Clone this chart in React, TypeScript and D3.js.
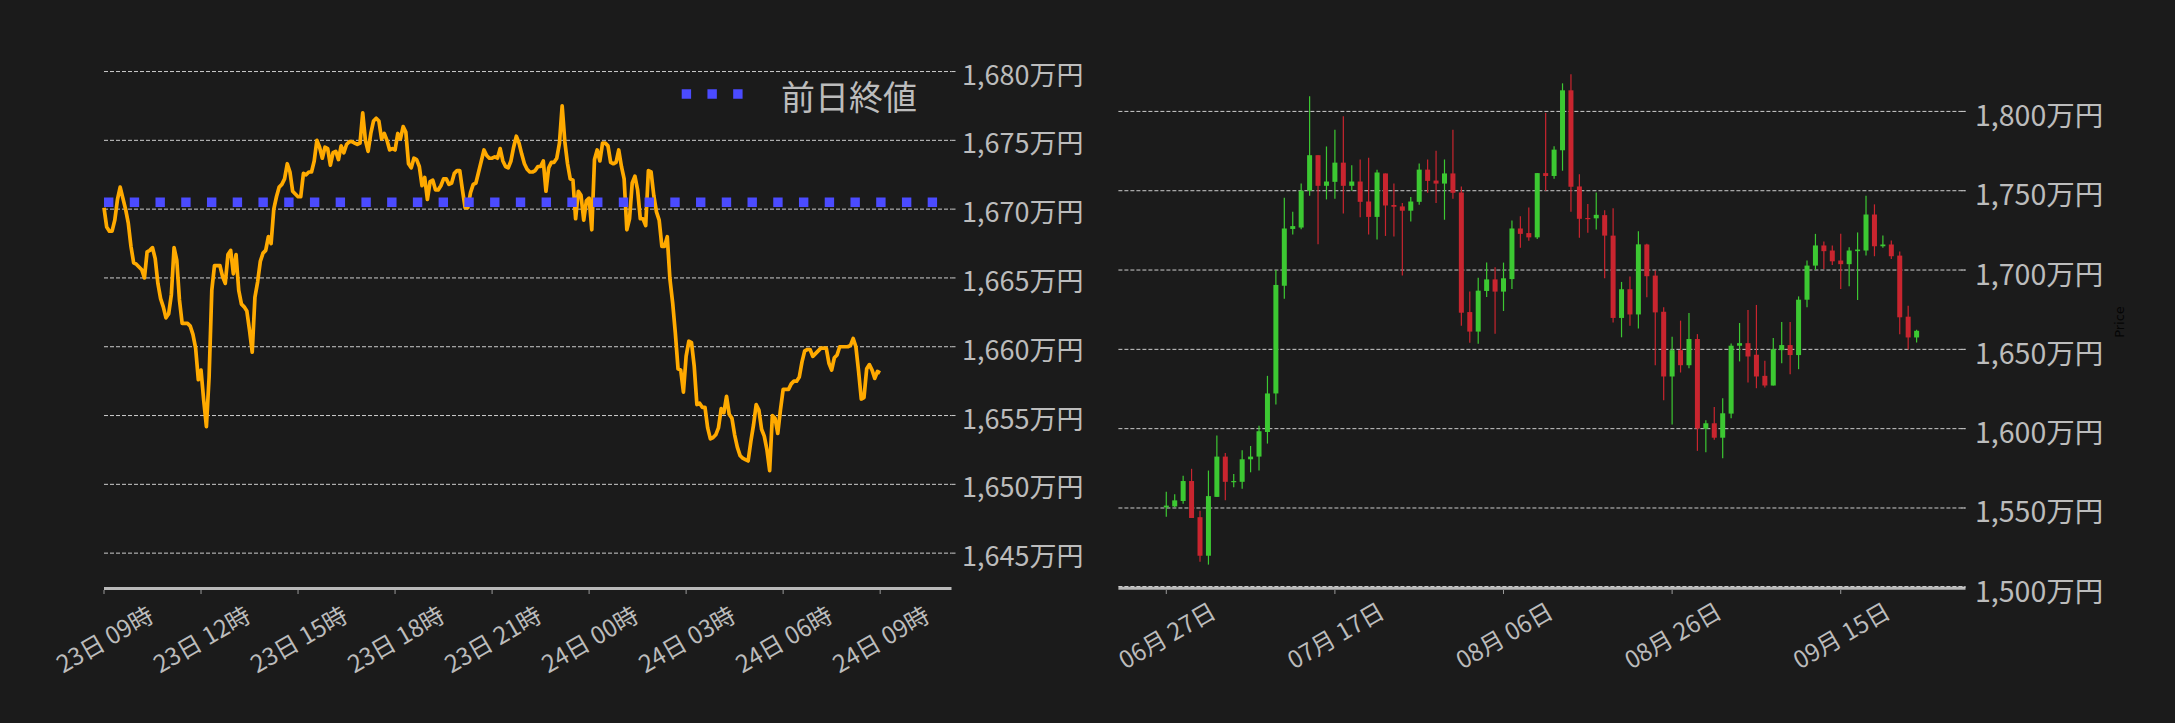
import React from 'react';
import * as d3 from 'd3';

// ---------- Left chart data: BTC/JPY (万円), 5-minute steps, 23日 09:00 → 24日 09:00 ----------
const intradayStart = '2025-09-23T09:00:00';
const intradayStepMinutes = 5;
const intradayPrices = [
  1670.1, 1668.7, 1668.4, 1668.4, 1669.2, 1670.7, 1671.6, 1670.8, 1670.0, 1669.0,
  1667.3, 1666.1, 1666.0, 1665.8, 1665.6, 1665.0, 1666.9, 1667.0, 1667.2, 1666.4,
  1664.6, 1663.5, 1662.9, 1662.1, 1662.4, 1663.8, 1667.2, 1666.3, 1663.4, 1661.7,
  1661.7, 1661.7, 1661.5, 1660.9, 1659.9, 1657.6, 1658.3, 1656.1, 1654.2, 1657.8,
  1664.1, 1665.9, 1665.9, 1665.9, 1665.1, 1664.6, 1666.7, 1667.0, 1665.3, 1666.7,
  1664.1, 1663.1, 1662.9, 1662.6, 1661.2, 1659.6, 1663.6, 1664.7, 1666.2, 1666.8,
  1667.0, 1668.0, 1667.5, 1670.0, 1670.9, 1671.6, 1671.8, 1672.2, 1673.3, 1672.7,
  1671.3, 1671.1, 1670.9, 1670.9, 1672.6, 1672.5, 1672.7, 1672.7, 1673.5, 1675.0,
  1674.5, 1673.7, 1674.5, 1674.4, 1673.2, 1674.1, 1674.2, 1673.6, 1674.6, 1674.1,
  1674.7, 1674.9, 1674.9, 1674.8, 1674.7, 1674.8, 1677.0, 1675.0, 1674.2, 1675.5,
  1676.4, 1676.6, 1676.4, 1675.1, 1675.5, 1675.0, 1674.3, 1674.4, 1674.3, 1675.5,
  1675.1, 1676.0, 1675.6, 1673.3, 1673.0, 1673.7, 1673.6, 1673.1, 1671.7, 1672.3,
  1670.7, 1672.0, 1672.1, 1671.4, 1671.4, 1671.7, 1672.2, 1672.2, 1671.8, 1671.9,
  1672.6, 1672.8, 1672.8, 1671.4, 1670.1, 1670.1, 1671.2, 1671.8, 1671.9, 1672.7,
  1673.5, 1674.3, 1673.9, 1673.7, 1673.7, 1673.8, 1673.7, 1674.4, 1673.5, 1673.1,
  1673.0, 1673.5, 1674.5, 1675.3, 1674.8, 1674.0, 1673.3, 1672.9, 1672.7, 1672.7,
  1672.8, 1673.1, 1673.1, 1673.5, 1671.3, 1673.0, 1673.4, 1673.4, 1673.7, 1674.8,
  1677.5, 1674.9, 1673.3, 1672.2, 1672.1, 1669.3, 1671.3, 1671.0, 1669.2, 1670.6,
  1670.8, 1668.5, 1673.6, 1674.3, 1673.5, 1674.8, 1674.8, 1674.6, 1673.4, 1673.3,
  1673.4, 1674.3, 1673.1, 1672.2, 1668.5, 1669.3, 1671.9, 1672.4, 1671.4, 1669.3,
  1669.3, 1668.8, 1672.8, 1672.7, 1671.0, 1669.8, 1669.2, 1667.3, 1667.3, 1668.0,
  1664.9, 1663.2, 1661.0, 1658.4, 1658.3, 1656.7, 1659.3, 1660.4, 1660.3, 1658.6,
  1655.8, 1655.9, 1655.6, 1655.6, 1654.1, 1653.3, 1653.4, 1653.6, 1654.1, 1655.5,
  1655.2, 1656.4, 1655.1, 1654.8, 1653.6, 1652.7, 1652.1, 1651.9, 1651.8, 1651.7,
  1653.1, 1654.3, 1655.8, 1655.4, 1654.0, 1653.5, 1652.5, 1651.0, 1655.0, 1654.8,
  1653.7, 1655.4, 1656.9, 1656.9, 1656.9, 1657.3, 1657.5, 1657.5, 1657.8, 1658.9,
  1659.7, 1659.8, 1659.8, 1659.3, 1659.5, 1659.7, 1659.9, 1659.9, 1659.9, 1658.8,
  1658.3, 1659.2, 1659.4, 1660.0, 1660.0, 1660.0, 1660.0, 1660.1, 1660.6, 1660.0,
  1658.2, 1656.2, 1656.3, 1658.4, 1658.7, 1658.3, 1657.7, 1658.2, 1658.1,
];
const prevClose = 1670.5;
const prevCloseLabel = '前日終値';
const leftYTicks = [1645, 1650, 1655, 1660, 1665, 1670, 1675, 1680];

// ---------- Right chart data: daily candles (万円) from 2025-06-27 ----------
const candleStart = '2025-06-27T00:00:00';
const opens = [
  1550.4, 1551.0, 1554.4, 1567.0, 1544.2, 1519.9, 1557.0, 1582.4, 1566.5, 1566.5,
  1580.7, 1582.4, 1597.9, 1622.2, 1690.1, 1725.9, 1726.8, 1750.0, 1772.4, 1753.1,
  1755.6, 1767.7, 1753.1, 1755.8, 1743.2, 1733.5, 1760.9, 1741.0, 1740.1, 1737.4,
  1743.0, 1763.3, 1756.4, 1754.5, 1760.9, 1748.9, 1673.5, 1661.2, 1686.8, 1694.1,
  1686.4, 1694.3, 1726.2, 1723.3, 1720.6, 1761.1, 1759.3, 1775.5, 1813.3, 1752.7,
  1732.8, 1732.6, 1734.6, 1721.7, 1669.8, 1687.9, 1672.0, 1716.1, 1696.5, 1673.7,
  1632.9, 1649.5, 1640.0, 1656.5, 1600.0, 1603.4, 1594.3, 1609.5, 1652.3, 1653.9,
  1646.6, 1633.3, 1627.2, 1649.5, 1652.7, 1646.4, 1681.3, 1702.8, 1715.5, 1712.3,
  1706.0, 1703.7, 1711.9, 1712.3, 1735.0, 1715.0, 1716.1, 1709.1, 1670.6, 1657.5,
];
const highs = [
  1560.3, 1558.6, 1570.3, 1574.7, 1548.2, 1573.6, 1595.7, 1584.7, 1571.4, 1586.4,
  1589.1, 1601.9, 1633.3, 1700.1, 1745.6, 1736.8, 1754.5, 1809.5, 1772.4, 1777.9,
  1788.5, 1796.9, 1766.0, 1769.7, 1770.8, 1763.3, 1760.9, 1754.5, 1742.3, 1746.1,
  1767.1, 1769.7, 1775.2, 1769.7, 1788.5, 1752.7, 1686.4, 1695.2, 1704.7, 1701.8,
  1704.7, 1731.2, 1733.9, 1739.4, 1761.1, 1799.1, 1778.1, 1817.7, 1823.4, 1760.4,
  1741.6, 1748.9, 1737.7, 1739.0, 1692.5, 1695.9, 1724.4, 1716.5, 1699.7, 1676.5,
  1657.9, 1668.1, 1672.9, 1659.6, 1605.3, 1613.7, 1619.2, 1653.7, 1666.6, 1674.8,
  1678.0, 1642.8, 1657.1, 1667.2, 1667.2, 1683.4, 1706.0, 1722.8, 1718.0, 1715.5,
  1722.8, 1714.4, 1723.7, 1746.8, 1741.4, 1721.8, 1718.6, 1711.7, 1677.5, 1662.4,
];
const lows = [
  1544.4, 1550.4, 1552.6, 1543.7, 1516.1, 1514.3, 1557.0, 1554.8, 1563.0, 1562.1,
  1572.5, 1573.6, 1590.6, 1615.2, 1681.9, 1722.4, 1725.7, 1746.9, 1716.2, 1744.5,
  1744.9, 1735.7, 1750.0, 1733.2, 1722.4, 1719.3, 1721.5, 1721.1, 1696.5, 1730.6,
  1741.2, 1748.7, 1742.3, 1731.7, 1744.9, 1664.9, 1654.1, 1653.6, 1683.0, 1659.8,
  1674.2, 1688.1, 1714.0, 1718.4, 1719.5, 1750.0, 1757.6, 1762.6, 1736.8, 1720.4,
  1723.5, 1725.5, 1694.8, 1666.9, 1657.6, 1664.9, 1663.1, 1682.8, 1640.0, 1617.9,
  1602.7, 1635.4, 1638.1, 1586.0, 1585.2, 1593.0, 1581.4, 1606.5, 1642.4, 1629.1,
  1625.5, 1626.0, 1627.2, 1641.3, 1634.3, 1637.5, 1676.5, 1700.1, 1700.7, 1703.2,
  1688.1, 1689.8, 1681.1, 1709.1, 1708.7, 1714.0, 1707.0, 1659.6, 1649.9, 1654.4,
];
const closes = [
  1551.5, 1554.8, 1567.0, 1543.7, 1519.9, 1557.5, 1582.4, 1566.5, 1567.0, 1580.7,
  1582.4, 1598.4, 1622.2, 1690.6, 1726.2, 1727.7, 1750.0, 1772.4, 1753.1, 1755.8,
  1767.7, 1753.1, 1755.8, 1743.0, 1733.5, 1761.5, 1740.7, 1739.9, 1737.4, 1743.2,
  1763.3, 1756.2, 1754.5, 1760.9, 1748.7, 1673.1, 1661.2, 1687.0, 1694.1, 1686.4,
  1694.8, 1726.2, 1722.8, 1720.6, 1761.1, 1759.3, 1775.9, 1813.3, 1752.5, 1732.3,
  1732.3, 1734.8, 1721.7, 1669.8, 1687.9, 1672.0, 1716.2, 1696.1, 1673.3, 1632.9,
  1649.5, 1640.0, 1656.5, 1600.1, 1603.4, 1594.3, 1609.7, 1652.3, 1653.9, 1645.5,
  1632.9, 1627.2, 1650.1, 1652.7, 1646.4, 1681.3, 1702.8, 1715.5, 1711.9, 1705.5,
  1703.7, 1712.3, 1712.9, 1735.0, 1715.0, 1716.1, 1708.7, 1670.2, 1657.5, 1661.7,
];
const rightYTicks = [1500, 1550, 1600, 1650, 1700, 1750, 1800];
const rightXTickDates = ['2025-06-27', '2025-07-17', '2025-08-06', '2025-08-26', '2025-09-15'];
const rightAxisTitle = 'Price';

// ---------- styling ----------
const W = 2175;
const H = 723;
const BG = '#1b1b1b';
const TXT = '#bcbcbc';
const GRID = '#cdcdcd';
const AXIS = '#b9b9b9';
const ORANGE = '#ffaa00';
const BLUE = '#4b4bff';
const UP = '#3cc832';
const DOWN = '#c9252f';
const FONT = '"Noto Sans CJK JP", "Noto Sans", sans-serif';

const fmtMan = (v: number) => d3.format(',')(v) + '万円';

export default function App() {
  // ----- left chart scales -----
  const t0 = new Date(intradayStart);
  const tEnd = new Date(+t0 + 26.206 * 3600e3);
  const xL = d3.scaleTime().domain([t0, tEnd]).range([104, 951.5]);
  const yL = d3.scaleLinear().domain([1642.43, 1682]).range([588.5, 588.5 - (1682 - 1642.43) * 13.76]);
  const times = intradayPrices.map((_, i) => new Date(+t0 + i * intradayStepMinutes * 60e3));
  const linePath = d3
    .line<number>()
    .x((_, i) => xL(times[i]))
    .y((d) => yL(d))(intradayPrices) as string;
  const leftXTicks = d3.timeHour.range(t0, new Date(+t0 + 24 * 3600e3 + 1), 3);
  const fmtL = d3.timeFormat('%d日 %H時');

  // ----- right chart scales -----
  const d0 = new Date(candleStart);
  const xR = d3
    .scaleTime()
    .domain([new Date(+d0 - 5.68 * 86400e3), new Date(+d0 + 94.8 * 86400e3)])
    .range([1118.4, 1965.5]);
  const yR = d3.scaleLinear().domain([1500, 1835]).range([587.3, 587.3 - 335 * 1.5863]);
  const fmtR = d3.timeFormat('%m月 %d日');
  const candleW = 5;

  const [lx0, lx1] = xL.range();
  const [rx0, rx1] = xR.range();

  return (
    <svg
      width={W}
      height={H}
      style={{ position: 'absolute', left: 0, top: 0, display: 'block' }}
      fontFamily={FONT}
    >
      <rect x={0} y={0} width={W} height={H} fill={BG} />

      {/* ================= LEFT CHART ================= */}
      {leftYTicks.map((v) => (
        <g key={'lg' + v}>
          <line x1={lx0} x2={lx1} y1={yL(v)} y2={yL(v)} stroke={GRID} strokeWidth={1} strokeDasharray="4 2" />
          <line x1={lx1} x2={lx1 + 4} y1={yL(v)} y2={yL(v)} stroke={GRID} strokeWidth={1} />
          <text x={962} y={yL(v) + 1.5} fill={TXT} fontSize={27} dominantBaseline="central">
            {fmtMan(v)}
          </text>
        </g>
      ))}
      <path d={linePath} fill="none" stroke={ORANGE} strokeWidth={3.7} strokeLinejoin="round" />
      <line
        x1={lx0}
        x2={lx1}
        y1={yL(prevClose)}
        y2={yL(prevClose)}
        stroke={BLUE}
        strokeWidth={9.6}
        strokeDasharray="9.4 16.34"
      />
      {/* legend */}
      <line x1={681.7} x2={743} y1={94} y2={94} stroke={BLUE} strokeWidth={9.6} strokeDasharray="9.4 16.34" />
      <text x={781} y={95} fill={TXT} fontSize={34} dominantBaseline="central">
        {prevCloseLabel}
      </text>
      {/* x axis */}
      <line x1={lx0} x2={lx1} y1={588.5} y2={588.5} stroke={AXIS} strokeWidth={3} />
      {leftXTicks.map((t) => (
        <g key={'lx' + +t}>
          <line x1={xL(t)} x2={xL(t)} y1={590} y2={594} stroke="#9a9a9a" strokeWidth={1} />
          <text
            transform={`translate(${xL(t)},638) rotate(-30)`}
            textAnchor="middle"
            dominantBaseline="central"
            fill={TXT}
            fontSize={24}
          >
            {fmtL(t)}
          </text>
        </g>
      ))}

      {/* ================= RIGHT CHART ================= */}
      <line x1={rx0} x2={rx1} y1={588.3} y2={588.3} stroke={AXIS} strokeWidth={3} />
      {rightYTicks.map((v) => (
        <g key={'rg' + v}>
          <line
            x1={rx0}
            x2={rx1}
            y1={yR(v) - (v === 1500 ? 0.8 : 0)}
            y2={yR(v) - (v === 1500 ? 0.8 : 0)}
            stroke={GRID}
            strokeWidth={1}
            strokeDasharray="4 2"
          />
          <line x1={rx1 - 4} x2={rx1} y1={yR(v)} y2={yR(v)} stroke={GRID} strokeWidth={1} />
          <text x={1975} y={yR(v) + 2} fill={TXT} fontSize={28.5} dominantBaseline="central">
            {fmtMan(v)}
          </text>
        </g>
      ))}
      {opens.map((o, i) => {
        const c = closes[i];
        const day = d3.timeDay.offset(d0, i);
        const cx = xR(day);
        const up = c >= o;
        const col = up ? UP : DOWN;
        const top = yR(Math.max(o, c));
        const bot = yR(Math.min(o, c));
        return (
          <g key={'c' + i}>
            <line x1={cx} x2={cx} y1={yR(highs[i])} y2={yR(lows[i])} stroke={col} strokeWidth={1.2} />
            <rect x={cx - candleW / 2} y={top} width={candleW} height={Math.max(1.2, bot - top)} fill={col} />
          </g>
        );
      })}
      {rightXTickDates.map((s) => {
        const t = new Date(s + 'T00:00:00');
        return (
          <g key={'rx' + s}>
            <line x1={xR(t)} x2={xR(t)} y1={590} y2={594} stroke="#9a9a9a" strokeWidth={1} />
            <text
              transform={`translate(${xR(t)},634) rotate(-30)`}
              textAnchor="middle"
              dominantBaseline="central"
              fill={TXT}
              fontSize={24}
            >
              {fmtR(t)}
            </text>
          </g>
        );
      })}
      <text
        transform="translate(2119,322) rotate(-90)"
        textAnchor="middle"
        dominantBaseline="central"
        fill="#050505"
        fontSize={13}
        fontFamily="DejaVu Sans"
      >
        {rightAxisTitle}
      </text>
    </svg>
  );
}
